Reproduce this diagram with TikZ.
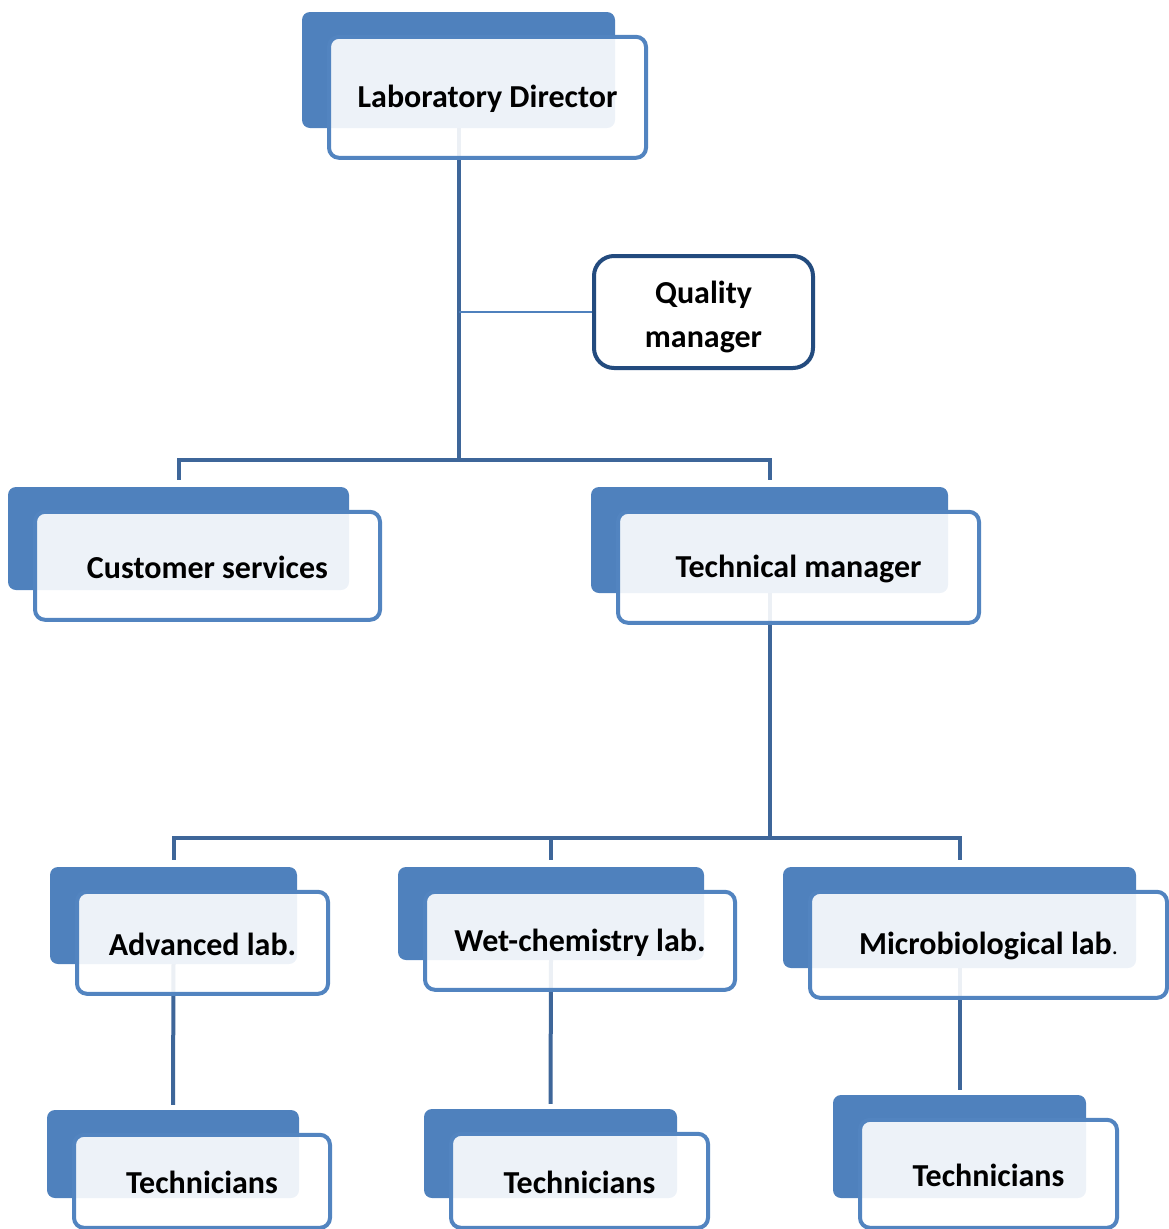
\documentclass[tikz,border=0pt]{standalone}
\usepackage{fontspec}
\setmainfont{Carlito}
\usetikzlibrary{backgrounds}

\definecolor{backblue}{HTML}{4F81BD}
\definecolor{frameblue}{HTML}{5284C0}
\definecolor{linkblue}{HTML}{3E6699}
\definecolor{qualblue}{HTML}{234B7E}

\tikzset{
  backbox/.style={fill=backblue, rounded corners=8pt, inner sep=0pt},
  frontbox/.style={draw=frameblue, line width=4pt, fill=white, fill opacity=0.9,
    text opacity=1, rounded corners=10pt, inner sep=0pt, align=center,
    font=\fontsize{32}{44}\selectfont\bfseries},
  qualbox/.style={draw=qualblue, line width=4pt, fill=white, rounded corners=20pt,
    inner sep=0pt, align=center, font=\fontsize{32}{44}\selectfont\bfseries},
  link/.style={draw=linkblue, line width=4pt},
  thinlink/.style={draw=backblue, line width=2pt},
}

% a unit = solid back card (given by its corners) plus an outlined front card with the label
\newcommand\orgunit[6]{%
  \node[backbox, minimum width={#4-#2}, minimum height={#5-#3}] (#1b)
    at ({(#2+#4)/2},{(#3+#5)/2}) {};
  \node[frontbox, minimum width={#4-#2+4}, minimum height={#5-#3+5}] (#1)
    at ({(#2+#4)/2+29},{(#3+#5)/2+27.3}) {\raisebox{-1.5pt}[\height][\depth]{#6}};
}

\begin{document}
\begin{tikzpicture}[x=1pt, y=-1pt]
\useasboundingbox (0,0) rectangle (1169,1229);

\orgunit{dir}{302}{12}{615}{128}{Laboratory Director}
\node[qualbox, minimum width=219, minimum height=112] (qm) at (703.5,312)
  {\raisebox{-5pt}[\height][\depth]{\begin{tabular}{@{}c@{}}Quality\\manager\end{tabular}}};
\orgunit{cs}{8}{487}{349}{590}{Customer services}
\orgunit{tm}{591}{487}{948}{593}{Technical manager}
\orgunit{adv}{50}{867}{297}{964}{Advanced lab.}
\orgunit{wet}{398}{867}{704}{960}{Wet-chemistry lab.}
\orgunit{mic}{783}{867}{1136}{968}{Microbiological lab{\mdseries\fontsize{24}{24}\selectfont.}}
\orgunit{teca}{47}{1110}{299}{1198}{Technicians}
\orgunit{tecb}{424}{1109}{677}{1198}{Technicians}
\orgunit{tecc}{833}{1095}{1086}{1198}{Technicians}

\begin{scope}[on background layer]
  \coordinate (bus1) at (dirb.south |- 0,460);
  \draw[link] (dirb.south) -- (bus1);
  \draw[thinlink] (qm.west) -- (qm.west -| dirb.south);
  \draw[link] ([yshift=7pt]csb.north) |- (bus1) -| ([yshift=7pt]tmb.north);

  \coordinate (bus2) at (tmb.south |- 0,838);
  \draw[link] (tmb.south) -- (bus2);
  \draw[link] ([yshift=7pt]advb.north) |- (bus2) -| ([yshift=7pt]micb.north);
  \draw[link] ([yshift=7pt]wetb.north) -- (wetb.north |- bus2);

  \draw[link] (advb.south) -- ([yshift=5pt]tecab.north);
  \draw[link] (wetb.south) -- ([yshift=5pt]tecbb.north);
  \draw[link] (micb.south) -- ([yshift=5pt]teccb.north);
\end{scope}
\end{tikzpicture}
\end{document}
